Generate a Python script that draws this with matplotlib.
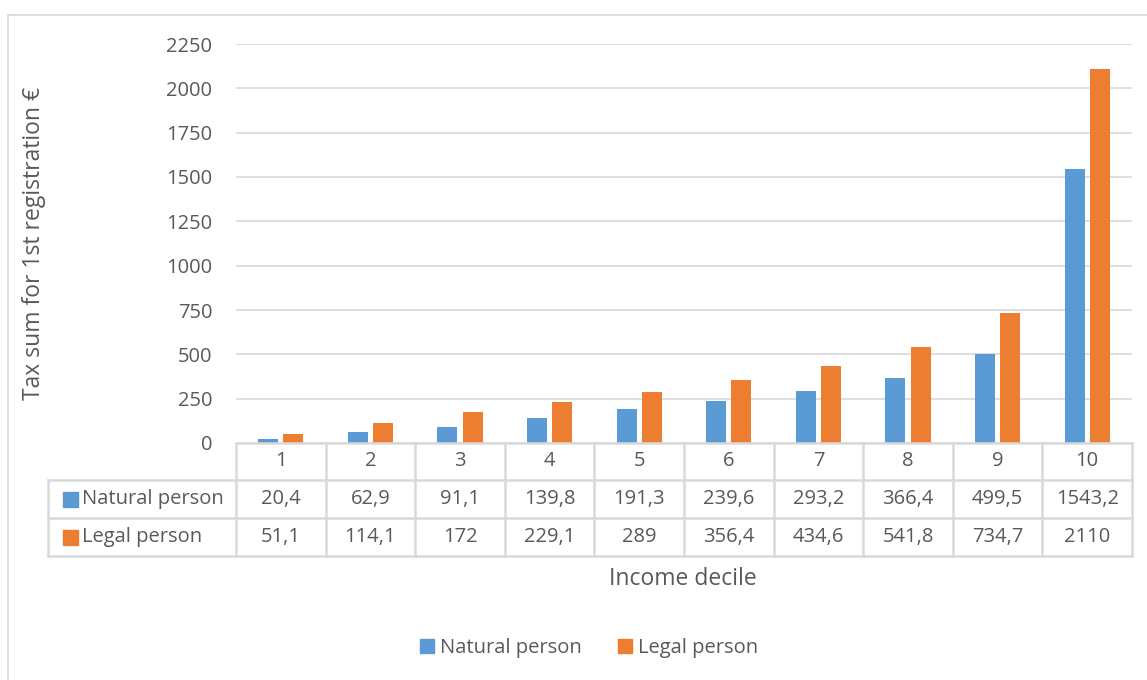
import matplotlib
matplotlib.use("Agg")
import matplotlib.pyplot as plt
from matplotlib.lines import Line2D
from matplotlib.patches import Rectangle
import numpy as np

# Data
deciles = ["1", "2", "3", "4", "5", "6", "7", "8", "9", "10"]
natural = [20.4, 62.9, 91.1, 139.8, 191.3, 239.6, 293.2, 366.4, 499.5, 1543.2]
legal = [51.1, 114.1, 172, 229.1, 289, 356.4, 434.6, 541.8, 734.7, 2110]
series_names = ["Natural person", "Legal person"]
yticks = [0, 250, 500, 750, 1000, 1250, 1500, 1750, 2000, 2250]

BLUE = "#5B9BD5"
ORANGE = "#ED7D31"
GRID = "#D9D9D9"
TXT = "#595959"
FONT = "Open Sans"
FS = 14.5
FS_TITLE = 16.5

W, H = 1147, 680
plt.rcParams["font.family"] = [FONT, "DejaVu Sans"]

fig = plt.figure(figsize=(W / 100, H / 100), dpi=100)


def fx(x):
    return x / W


def fy(y):
    return 1 - y / H


# plot area in pixels
left, right, top, bottom = 236, 1132, 44, 443
ax = fig.add_axes([fx(left), fy(bottom), fx(right - left), (bottom - top) / H])

x = np.arange(len(deciles))
bw = 0.223
off = 0.14
ax.bar(x - off, natural, bw, color=BLUE, zorder=3)
ax.bar(x + off, legal, bw, color=ORANGE, zorder=3)

ax.set_xlim(-0.5, len(deciles) - 0.5)
ax.set_ylim(0, 2250)
ax.set_yticks(yticks)
ax.set_yticklabels([str(v) for v in yticks], fontsize=FS, color=TXT)
ax.set_xticks([])
ax.tick_params(axis="y", length=0, pad=17)
ax.grid(axis="y", color=GRID, linewidth=1.2, zorder=0)
for s in ax.spines.values():
    s.set_visible(False)

ax.set_ylabel("Tax sum for 1st registration €", fontsize=FS_TITLE, color=TXT, labelpad=0)
ax.yaxis.set_label_coords((46 - left) / (right - left), 0.5)

# chart outer border
fig.add_artist(Line2D([fx(8), 1], [fy(15), fy(15)], color=GRID, lw=1.2))
fig.add_artist(Line2D([fx(8), fx(8)], [fy(15), 0], color=GRID, lw=1.2))

# data table
rows = [443, 480, 518, 556]
tab_left = 48
colw = (right - left) / len(deciles)
lw_t = 1.8
fig.add_artist(Line2D([fx(left), fx(right)], [fy(rows[0])] * 2, color=GRID, lw=lw_t))
for r in rows[1:]:
    fig.add_artist(Line2D([fx(tab_left), fx(right)], [fy(r)] * 2, color=GRID, lw=lw_t))
fig.add_artist(Line2D([fx(tab_left)] * 2, [fy(rows[1]), fy(rows[3])], color=GRID, lw=lw_t))
for i in range(len(deciles) + 1):
    xc = left + i * colw
    fig.add_artist(Line2D([fx(xc)] * 2, [fy(rows[0]), fy(rows[3])], color=GRID, lw=lw_t))

for i, lab in enumerate(deciles):
    xc = left + (i + 0.5) * colw
    fig.text(fx(xc), fy((rows[0] + rows[1]) / 2), lab, ha="center", va="center",
             fontsize=FS, color=TXT)
    for r, vals in ((1, natural), (2, legal)):
        v = ("%g" % vals[i]).replace(".", ",")
        fig.text(fx(xc), fy((rows[r] + rows[r + 1]) / 2), v, ha="center", va="center",
                 fontsize=FS, color=TXT)

for r, (name, col) in enumerate(zip(series_names, [BLUE, ORANGE])):
    yc = (rows[r + 1] + rows[r + 2]) / 2
    fig.add_artist(Rectangle((fx(63), fy(yc + 7.5)), fx(15), 15 / H, color=col,
                             transform=fig.transFigure))
    fig.text(fx(82), fy(yc), name, ha="left", va="center", fontsize=FS, color=TXT)

fig.text(fx(683), fy(579), "Income decile", ha="center", va="center", fontsize=FS_TITLE, color=TXT)

# legend
handles = [Rectangle((0, 0), 1, 1, color=c) for c in (BLUE, ORANGE)]
fig.legend(handles, series_names, loc="center", bbox_to_anchor=(fx(589), fy(648)),
           ncol=2, frameon=False, fontsize=FS, labelcolor=TXT,
           handlelength=0.7, handleheight=0.7, handletextpad=0.3, columnspacing=1.8)

fig.savefig("out.png", dpi=100)
